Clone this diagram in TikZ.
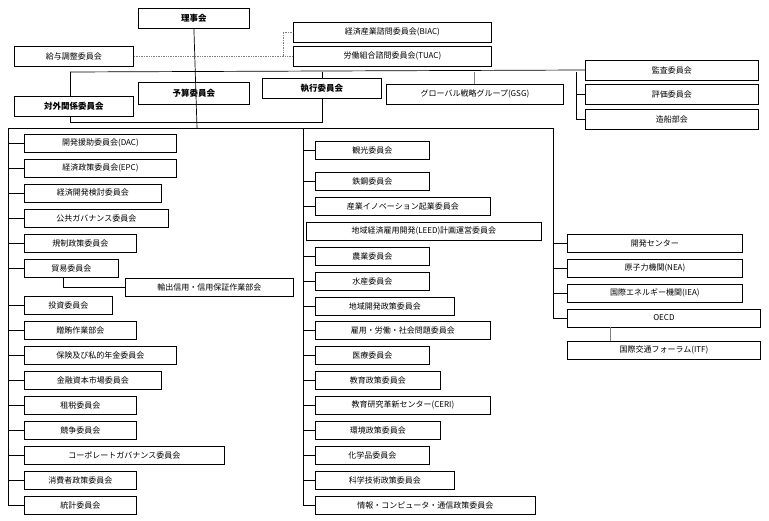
\documentclass[tikz,border=0pt]{standalone}
\usepackage{fontspec}
\setmainfont{Noto Sans CJK JP}
\begin{document}
\begin{tikzpicture}[x=1pt,y=-1pt,
 box/.style={draw,thick,minimum height=18pt,inner sep=0pt,anchor=west,font=\fontsize{8}{9}\selectfont,fill=white},
 bb/.style={box,font=\fontsize{8.5}{9}\selectfont\bfseries},
 ln/.style={line width=0.7pt},
 gl/.style={line width=0.7pt,gray}]
\useasboundingbox (0,0) rectangle (769,521);
% top
\node[bb,minimum width=111pt,minimum height=20pt] (riji) at (138,18) {理事会};
\node[box,minimum width=198pt,minimum height=20pt] (biac) at (293,32) {経済産業諮問委員会(BIAC)};
\node[box,minimum width=198pt,minimum height=20pt] (tuac) at (293,56) {労働組合諮問委員会(TUAC)};
\node[box,minimum width=119pt,minimum height=20pt] (kyuyo) at (14,56) {給与調整委員会};
\node[bb,minimum width=119pt,minimum height=20pt] (taigai) at (14,106) {対外関係委員会};
\node[bb,minimum width=111pt,minimum height=22pt] (yosan) at (138,93) {予算委員会};
\node[bb,minimum width=119pt,minimum height=20pt] (shikko) at (262,88) {執行委員会};
\node[box,minimum width=177pt,minimum height=20pt] (gsg) at (386,94) {グローバル戦略グループ(GSG)};
\node[box,minimum width=173pt,minimum height=20pt] (kansa) at (585,70) {監査委員会};
\node[box,minimum width=173pt,minimum height=20pt] (hyoka) at (585,94) {評価委員会};
\node[box,minimum width=173pt,minimum height=20pt] (zosen) at (585,119) {造船部会};
\coordinate (c1) at (283,56);
\draw[gl,densely dotted] (kyuyo.east) -- (tuac.west);
\draw[gl,densely dotted] (c1) |- (biac.west);
\begin{scope}[on background layer/.style={}]
\end{scope}
\draw[ln] (riji.south) -- (197,128);
\draw[ln] (70,72) -- (kansa.west);
\draw[ln] (70,72) -- (taigai.north -| 70,0);
\draw[ln] (taigai.south -| 70,0) -- (70,122) -- (322,122) -- (shikko.south -| 322,0);
\draw[ln] (322,72) -- (shikko.north -| 322,0);
\draw[gl] (474,72) -- (gsg.north -| 474,0);
\draw[ln] (576,72) |- (zosen.west);
\draw[ln] (576,94) -- (hyoka.west);
\draw[ln] (8,128) -- (553,128);
% left column
\draw[ln] (8,128) -- (8,505);
\foreach \n/\y/\w/\t in {L1/143/152/開発援助委員会(DAC),L2/168/152/経済政策委員会(EPC),L3/193/137/経済開発検討委員会,L4/218/144/公共ガバナンス委員会,L5/243/112/規制政策委員会,L6/268/94/貿易委員会,L7/305/88/投資委員会,L8/330/112/贈賄作業部会,L9/355/152/保険及び私的年金委員会,L10/380/137/金融資本市場委員会,L11/405/112/租税委員会,L12/430/112/競争委員会,L13/455/200/コーポレートガバナンス委員会,L14/480/112/消費者政策委員会,L15/505/112/統計委員会}{
 \node[box,minimum width=\w pt] (\n) at (24,\y) {\t};
 \draw[ln] (8,\y) -- (\n.west);
}
\node[box,minimum width=168pt] (yushutsu) at (125,287) {輸出信用・信用保証作業部会};
\draw[ln] (L6.south -| 63,0) |- (yushutsu.west);
% middle column
\draw[ln] (303,128) -- (303,505);
\foreach \n/\y/\w/\t in {M1/150/114/観光委員会,M2/181/114/鉄鋼委員会,M3/206/175/産業イノベーション起業委員会,M5/256/114/農業委員会,M6/281/114/水産委員会,M7/306/139/地域開発政策委員会,M8/330/175/雇用・労働・社会問題委員会,M9/355/114/医療委員会,M10/380/125/教育政策委員会,M11/405/175/教育研究革新センター(CERI),M12/430/125/環境政策委員会,M13/455/114/化学品委員会,M14/480/139/科学技術政策委員会,M15/505/220/情報・コンピュータ・通信政策委員会}{
 \node[box,minimum width=\w pt] (\n) at (315,\y) {\t};
 \draw[ln] (303,\y) -- (\n.west);
}
\node[box,minimum width=235pt] (M4) at (306,231) {地域経済雇用開発(LEED)計画運営委員会};
% right column
\draw[ln] (553,128) -- (553,318);
\foreach \n/\y/\w/\t in {R1/243/175/開発センター,R2/268/175/原子力機関(NEA),R3/293/175/国際エネルギー機関(IEA),R4/318/193/OECD/ITF 交通研究センター}{
 \node[box,minimum width=\w pt] (\n) at (567,\y) {\t};
 \draw[ln] (553,\y) -- (\n.west);
}
\node[box,minimum width=193pt] (R5) at (567,350) {国際交通フォーラム(ITF)};
\draw[gl] (R4.south -| 610,0) -- (R5.north -| 610,0);
\end{tikzpicture}
\end{document}
